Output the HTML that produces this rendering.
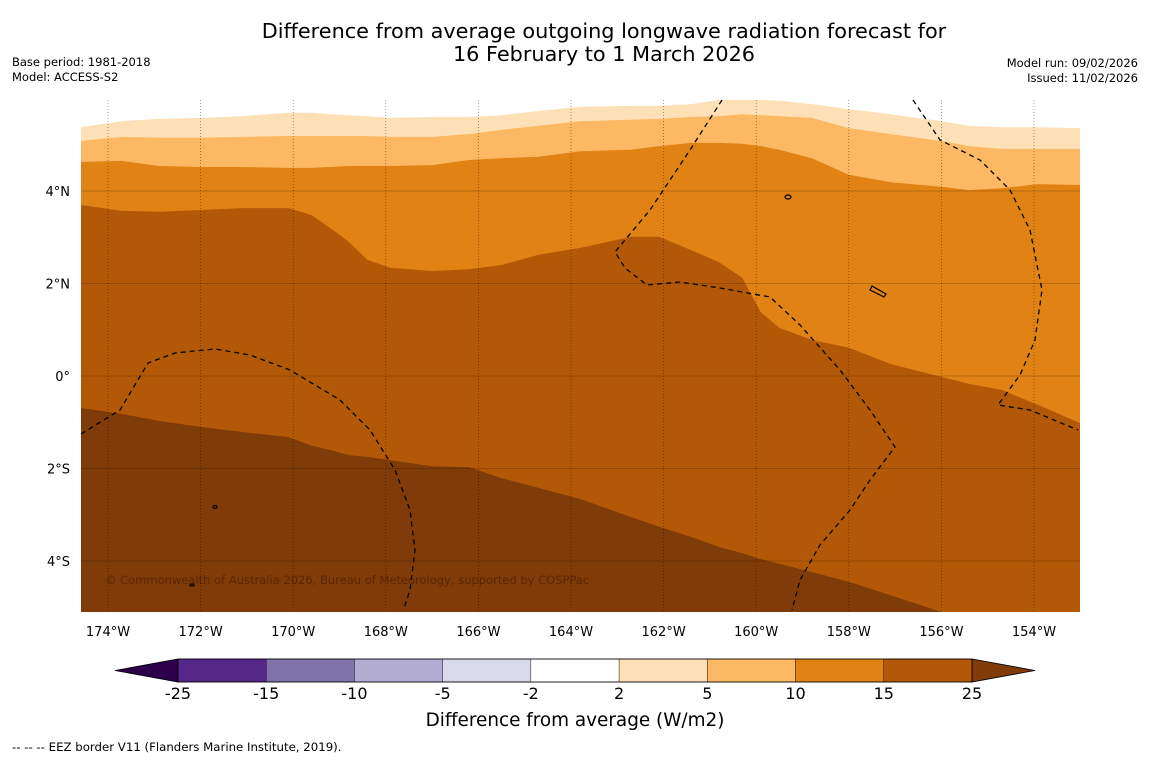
<!DOCTYPE html>
<html><head><meta charset="utf-8"><style>
body{margin:0;background:#fff;width:1150px;height:758px;overflow:hidden;font-family:"DejaVu Sans","Liberation Sans",sans-serif;}
svg text{font-family:"DejaVu Sans","Liberation Sans",sans-serif;}
</style></head><body>
<svg id="chart" width="1150" height="758" viewBox="0 0 1150 758">
<text x="604" y="38" font-size="20.8" text-anchor="middle">Difference from average outgoing longwave radiation forecast for</text>
<text x="604" y="61" font-size="20.8" text-anchor="middle">16 February to 1 March 2026</text>
<text x="12" y="66" font-size="11.5">Base period: 1981-2018</text>
<text x="12" y="81" font-size="11.5">Model: ACCESS-S2</text>
<text x="1138" y="67" font-size="11.5" text-anchor="end">Model run: 09/02/2026</text>
<text x="1138" y="82" font-size="11.5" text-anchor="end">Issued: 11/02/2026</text>
<defs><clipPath id="mapclip"><rect x="81" y="90" width="999" height="522"/></clipPath></defs>
<g id="map" clip-path="url(#mapclip)"></g>
<g id="grid"></g>
<g id="eez" fill="none" stroke="#000" stroke-width="1.3" stroke-dasharray="5,4">
<path d="M81,434 L120,410 L148,363 L175,353 L215,349 L250,355 L290,370 L340,400 L370,430 L395,470 L410,510 L415,550 L410,590 L404,608"/>
<path d="M722,100 L690,150 L650,210 L615,252 L625,268 L647,285 L680,282 L720,288 L770,297 L800,325 L840,370 L870,410 L895,447 L870,480 L850,510 L820,545 L800,580 L792,610"/>
<path d="M913,100 L940,140 L980,160 L1010,190 L1030,230 L1042,290 L1035,340 L1020,375 L998,405 L1030,410 L1078,430"/>
</g>
<g fill="none" stroke="#000" stroke-width="1.2">
<ellipse cx="788" cy="197" rx="3" ry="2"/><path d="M872,286 L886,294 L884,297 L870,290Z"/><ellipse cx="215" cy="507" rx="2" ry="1.5"/><ellipse cx="192" cy="585" rx="2" ry="1"/>
</g>
<text x="105" y="584" font-size="11.5" fill="#4a2004" fill-opacity="0.7">© Commonwealth of Australia 2026, Bureau of Meteorology, supported by COSPPac</text>
<g id="axes"></g>
<g id="cbar"></g>
<text x="575" y="726" font-size="18.4" text-anchor="middle">Difference from average (W/m2)</text>
<text x="12" y="751" font-size="11.75">--  --  -- EEZ border V11 (Flanders Marine Institute, 2019).</text>
</svg>
<script>
const lons=[-174.6,-173.7,-172.9,-172,-171.1,-170.1,-169.6,-169.2,-168.8,-168.4,-167.9,-167,-166.2,-165.5,-164.7,-163.8,-162.7,-162.1,-161.4,-160.8,-160.3,-159.9,-159.5,-158.8,-158,-157.1,-156,-155.4,-154.7,-153.9,-153];
const edge25=[-0.69,-0.82,-0.97,-1.10,-1.21,-1.32,-1.51,-1.60,-1.71,-1.75,-1.82,-1.95,-1.97,-2.21,-2.42,-2.66,-3.05,-3.26,-3.48,-3.70,-3.83,-3.96,-4.06,-4.24,-4.45,-4.74,-5.10,-5.28,-5.38,-5.49,-5.71];
const edge15=[3.70,3.57,3.55,3.59,3.63,3.63,3.48,3.20,2.90,2.51,2.34,2.27,2.31,2.40,2.62,2.77,3.01,3.01,2.72,2.46,2.12,1.38,1.04,0.78,0.61,0.26,-0.02,-0.17,-0.30,-0.63,-1.02];
const edge10=[4.63,4.65,4.54,4.52,4.52,4.50,4.50,4.52,4.54,4.54,4.54,4.56,4.67,4.71,4.74,4.86,4.89,4.97,5.04,5.04,5.02,4.97,4.89,4.71,4.35,4.19,4.09,4.02,4.06,4.15,4.13];
const edge5=[5.08,5.17,5.15,5.15,5.17,5.19,5.19,5.19,5.19,5.19,5.17,5.17,5.23,5.32,5.41,5.51,5.54,5.56,5.60,5.62,5.66,5.64,5.62,5.58,5.36,5.23,5.08,4.97,4.91,4.91,4.91];
const edge2=[5.38,5.51,5.56,5.58,5.62,5.69,5.69,5.66,5.64,5.62,5.58,5.60,5.60,5.64,5.73,5.82,5.84,5.84,5.88,5.97,5.97,5.97,5.95,5.88,5.77,5.66,5.51,5.41,5.38,5.38,5.36];
const lonTicks=[-174,-172,-170,-168,-166,-164,-162,-160,-158,-156,-154];
const latTicks=[4,2,0,-2,-4];
const latLabels=["4°N","2°N","0°","2°S","4°S"];
const cbarLevels=["-25","-15","-10","-5","-2","2","5","10","15","25"];
const cbarColors=["#542788","#8073ac","#b2abd2","#d8daeb","#ffffff","#fee0b6","#fdb863","#e08214","#b35806"];
const NS="http://www.w3.org/2000/svg";
const xS=lon=>108+(lon+174)*46.3;
const yS=lat=>376-lat*46.25;
function mk(tag,attrs,parent){const e=document.createElementNS(NS,tag);for(const k in attrs)e.setAttribute(k,attrs[k]);parent.appendChild(e);return e;}
const map=document.getElementById('map');
const bg=mk('rect',{x:81,y:90,width:999,height:522,fill:'#7f3b08'},map);


const bands=[[edge25,'#b35806','band-15-25'],[edge15,'#e08214','band-10-15'],[edge10,'#fdb863','band-5-10'],[edge5,'#fee0b6','band-2-5'],[edge2,'#ffffff','band-below-2']];
bands.forEach(([edge,col,name])=>{
  let d='M'+xS(lons[0])+',80';
  lons.forEach((lo,i)=>{d+=' L'+xS(lo).toFixed(1)+','+yS(edge[i]).toFixed(1);});
  d+=' L'+xS(lons[lons.length-1])+',80Z';
  const p=mk('path',{d:d,fill:col},map);
  
  
});
const grid=document.getElementById('grid');
lonTicks.forEach(lo=>{
  const l=mk('line',{x1:xS(lo),x2:xS(lo),y1:100,y2:612,stroke:'#000','stroke-width':0.6,'stroke-dasharray':'1,2','stroke-opacity':0.6},grid);
  
  
  const t=mk('text',{x:xS(lo),y:636,'font-size':13,'text-anchor':'middle'},document.getElementById('axes'));
  t.textContent=Math.abs(lo)+'°W';
  
  
});
latTicks.forEach((la,i)=>{
  const l=mk('line',{x1:81,x2:1080,y1:yS(la),y2:yS(la),stroke:'#000','stroke-width':0.6,'stroke-opacity':0.35},grid);
  
  
  const t=mk('text',{x:70,y:yS(la)+5,'font-size':13,'text-anchor':'end'},document.getElementById('axes'));
  t.textContent=latLabels[i];
  
  
});
const cb=document.getElementById('cbar');
const cx0=178,cw=(972-178)/cbarColors.length,cy=659,ch=23;
const lt=mk('polygon',{points:`115,670.5 ${cx0},${cy} ${cx0},${cy+ch}`,fill:'#2d004b',stroke:'#000','stroke-width':0.8},cb);


const rt=mk('polygon',{points:`1035,670.5 972,${cy} 972,${cy+ch}`,fill:'#7f3b08',stroke:'#000','stroke-width':0.8},cb);


cbarColors.forEach((c,i)=>{
  const r=mk('rect',{x:cx0+i*cw,y:cy,width:cw,height:ch,fill:c,stroke:'#000','stroke-width':0.4},cb);
  
  
});
mk('rect',{x:cx0,y:cy,width:972-cx0,height:ch,fill:'none',stroke:'#000','stroke-width':0.8},cb);
cbarLevels.forEach((v,i)=>{
  const t=mk('text',{x:cx0+i*cw,y:699,'font-size':16,'text-anchor':'middle'},cb);
  t.textContent=v;
  
  
});
</script>
</body></html>
